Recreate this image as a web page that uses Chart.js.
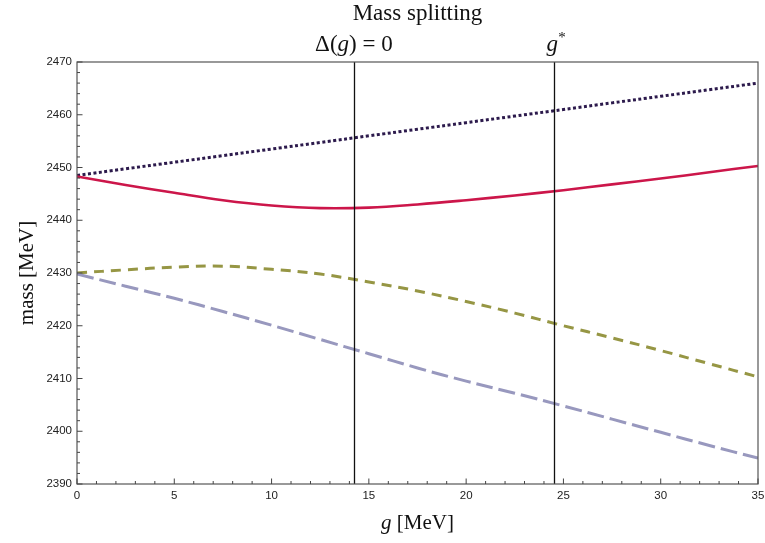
<!DOCTYPE html>
<html>
<head>
<meta charset="utf-8">
<script src="https://cdn.jsdelivr.net/npm/chart.js@4.4.0/dist/chart.umd.min.js"></script>
<style>
html, body { margin: 0; padding: 0; background: #fff; }
canvas { display: block; }
</style>
</head>
<body>
<canvas id="massChart" width="765" height="543"></canvas>
<script>
// Значения g [MeV]
const gValues = [0, 2.5, 5, 7.5, 10, 12.5, 15, 17.5, 20, 22.5, 25, 27.5, 30, 32.5, 35];

// Массы [MeV]
const massDotted   = [2448.5, 2449.75, 2451.0, 2452.25, 2453.5, 2454.75, 2456.0, 2457.25, 2458.5, 2459.75, 2461.0, 2462.25, 2463.5, 2464.75, 2466.0];
const massSolid    = [2448.3, 2446.7, 2445.2, 2443.8, 2442.8, 2442.3, 2442.4, 2443.0, 2443.8, 2444.7, 2445.7, 2446.8, 2447.9, 2449.1, 2450.3];
const massDashed   = [2430.0, 2430.6, 2431.1, 2431.3, 2430.7, 2429.8, 2428.3, 2426.6, 2424.6, 2422.4, 2420.0, 2417.7, 2415.3, 2412.8, 2410.3];
const massLongDash = [2429.8, 2427.5, 2425.2, 2422.7, 2420.1, 2417.4, 2414.7, 2412.0, 2409.5, 2407.2, 2404.8, 2402.3, 2399.8, 2397.3, 2394.9];

// Вертикальные линии: Δ(g)=0 и g*
const markerPositions = [14.23, 24.53];

const toPoints = ys => gValues.map((g, i) => ({ x: g, y: ys[i] }));

function lineSet(ys, color, width, dash) {
    return {
        data: toPoints(ys),
        borderColor: color,
        borderWidth: width,
        borderDash: dash,
        showLine: true,
        pointRadius: 0,
        tension: 0.4,
        fill: false
    };
}

// Рамка, засечки, вертикальные линии и подписи
const decorPlugin = {
    id: 'decor',
    afterDatasetsDraw(chart) {
        const { ctx, chartArea: a, scales: { x, y } } = chart;
        ctx.save();

        // вертикальные линии
        ctx.strokeStyle = '#111';
        ctx.lineWidth = 1.3;
        markerPositions.forEach(g => {
            const px = Math.round(x.getPixelForValue(g)) + 0.5;
            ctx.beginPath();
            ctx.moveTo(px, a.top);
            ctx.lineTo(px, a.bottom);
            ctx.stroke();
        });

        // рамка
        ctx.strokeStyle = '#555';
        ctx.lineWidth = 1.2;
        ctx.strokeRect(a.left, a.top, a.right - a.left, a.bottom - a.top);

        // засечки внутрь
        ctx.lineWidth = 1;
        ctx.strokeStyle = '#444';
        for (let v = 0; v <= 35; v++) {
            const px = x.getPixelForValue(v);
            const len = v % 5 === 0 ? 5.5 : 3;
            ctx.beginPath();
            ctx.moveTo(px, a.bottom);
            ctx.lineTo(px, a.bottom - len);
            ctx.stroke();
        }
        for (let v = 2390; v <= 2470; v += 2) {
            const py = y.getPixelForValue(v);
            const len = v % 10 === 0 ? 5.5 : 3;
            ctx.beginPath();
            ctx.moveTo(a.left, py);
            ctx.lineTo(a.left + len, py);
            ctx.stroke();
        }

        // тексты
        ctx.fillStyle = '#111';
        ctx.textBaseline = 'alphabetic';
        const serif = '"Liberation Serif", "DejaVu Serif", serif';
        const cx = (a.left + a.right) / 2;

        ctx.font = '23px ' + serif;
        ctx.textAlign = 'center';
        ctx.fillText('Mass splitting', cx, 20);

        // составная подпись: части [текст, курсив]
        function drawParts(parts, centerX, baseY, size) {
            ctx.textAlign = 'left';
            const widths = parts.map(([t, it]) => {
                ctx.font = (it ? 'italic ' : '') + size + 'px ' + serif;
                return ctx.measureText(t).width;
            });
            let px = centerX - widths.reduce((s, w) => s + w, 0) / 2;
            parts.forEach(([t, it], i) => {
                ctx.font = (it ? 'italic ' : '') + size + 'px ' + serif;
                ctx.fillText(t, px, baseY);
                px += widths[i];
            });
        }

        const m0 = x.getPixelForValue(markerPositions[0]);
        const m1 = x.getPixelForValue(markerPositions[1]);
        drawParts([['Δ(', false], ['g', true], [') = 0', false]], m0, 51, 23);
        drawParts([['g', true]], m1 - 2, 51, 23);
        ctx.font = '15px ' + serif;
        ctx.textAlign = 'left';
        ctx.fillText('*', m1 + 4, 42);

        drawParts([['g', true], [' [MeV]', false]], cx, 529, 21);

        ctx.save();
        ctx.translate(33, (a.top + a.bottom) / 2);
        ctx.rotate(-Math.PI / 2);
        ctx.font = '21px ' + serif;
        ctx.textAlign = 'center';
        ctx.fillText('mass [MeV]', 0, 0);
        ctx.restore();

        ctx.restore();
    }
};

const tickFont = { family: '"Liberation Sans", Arial, sans-serif', size: 11.5 };

new Chart(document.getElementById('massChart'), {
    type: 'scatter',
    data: {
        datasets: [
            lineSet(massLongDash, 'rgb(152,152,190)', 3, [17, 6]),
            lineSet(massDashed, 'rgb(150,150,68)', 3, [10, 7]),
            lineSet(massSolid, 'rgb(204,22,74)', 2.6, []),
            lineSet(massDotted, 'rgb(44,26,76)', 3, [3, 2.5])
        ]
    },
    options: {
        responsive: false,
        animation: false,
        devicePixelRatio: 1,
        layout: { padding: { left: 0, top: 62, right: 7, bottom: 0 } },
        plugins: {
            legend: { display: false },
            tooltip: { enabled: false }
        },
        scales: {
            x: {
                type: 'linear',
                min: 0,
                max: 35,
                grid: { display: false, drawTicks: false },
                border: { display: false },
                ticks: { stepSize: 5, padding: 5, color: '#222', font: tickFont, maxRotation: 0 },
                afterFit(scale) {
                    scale.height = 59;
                    scale.paddingLeft = 0;
                    scale.paddingRight = 0;
                }
            },
            y: {
                min: 2390,
                max: 2470,
                grid: { display: false, drawTicks: false },
                border: { display: false },
                ticks: { stepSize: 10, padding: 5, color: '#222', font: tickFont, callback: v => String(v) },
                afterFit(scale) { scale.width = 77; }
            }
        }
    },
    plugins: [decorPlugin]
});
</script>
</body>
</html>
